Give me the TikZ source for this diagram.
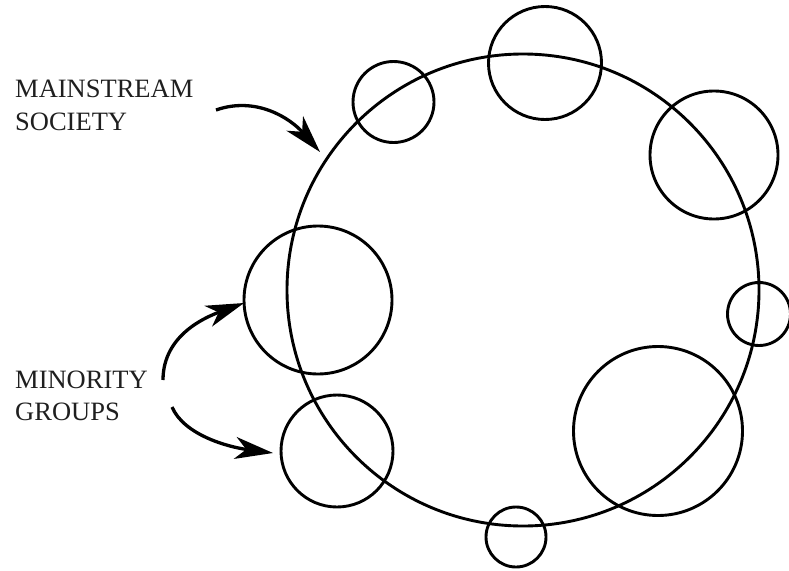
\documentclass[tikz,border=0pt]{standalone}
\usepackage{fontspec}
\setmainfont{Liberation Serif}
\usetikzlibrary{arrows.meta}
\begin{document}
\begin{tikzpicture}[x=1pt,y=-1pt,
  ring/.style={circle,draw,line width=2.9pt,inner sep=0pt,outer sep=0pt},
  lbl/.style={font=\fontsize{26.5}{33}\selectfont,text=black!88,inner sep=0pt,anchor=base west},
  pointer/.style={line width=3.3pt,-{Stealth[length=38pt,width=22pt,inset=11pt]}}]
\useasboundingbox (0,0) rectangle (789,570);
% mainstream society
\node[ring,minimum size=472pt] (society) at (523,290) {};
% minority groups
\node[ring,minimum size=81pt]  (g1) at (393.5,102) {};
\node[ring,minimum size=113pt] (g2) at (545,63) {};
\node[ring,minimum size=128pt] (g3) at (714,155) {};
\node[ring,minimum size=63pt]  (g4) at (759,314) {};
\node[ring,minimum size=169pt] (g5) at (658,431) {};
\node[ring,minimum size=60pt]  (g6) at (516,537) {};
\node[ring,minimum size=112pt] (g7) at (337,451) {};
\node[ring,minimum size=148pt] (g8) at (318,300) {};
% labels
\node[lbl] (ms1) at (15,97) {MAINSTREAM};
\node[lbl] (ms2) at (15,130) {SOCIETY};
\node[lbl] (mg1) at (15,388) {MINORITY};
\node[lbl] (mg2) at (15,420) {GROUPS};
% arrows
\coordinate (a1s) at (216,110);
\coordinate (a1e) at (320,152);
\coordinate (a2s) at (163,380);
\coordinate (a2e) at (244,303);
\coordinate (a3s) at (172,407);
\coordinate (a3e) at (273,453);
\draw[pointer] (a1s) .. controls +(40,-14) and +(-30,-34) .. (a1e);
\draw[pointer] (a2s) .. controls +(0,-45) and +(-38,14) .. (a2e);
\draw[pointer] (a3s) .. controls +(12,28) and +(-45,-6) .. (a3e);
\end{tikzpicture}
\end{document}
